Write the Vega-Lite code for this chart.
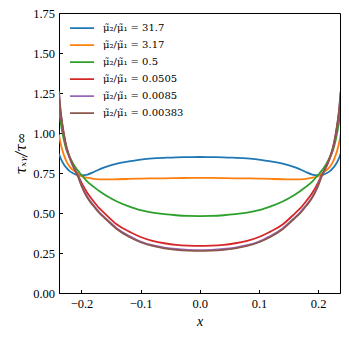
{
  "$schema": "https://vega.github.io/schema/vega-lite/v6.json",
  "width": 281,
  "height": 280,
  "autosize": {"type": "none"},
  "padding": {"left": 59, "top": 13, "right": 9, "bottom": 44},
  "background": "white",
  "config": {
    "font": "Liberation Serif",
    "view": {"stroke": "black", "strokeWidth": 1},
    "axis": {"grid": false, "domainColor": "black", "tickColor": "black", "labelColor": "black", "titleColor": "black", "labelFont": "Liberation Serif", "titleFont": "Liberation Serif", "labelFontSize": 12.5, "titleFontSize": 14, "titleFontWeight": "normal", "tickSize": -3.5, "labelPadding": 8}
  },
  "data": {"values": [
    {"x": -0.238, "a": 0.87, "b": 0.99, "c": 1.15, "d": 1.22, "e": 1.25, "f": 1.26},
    {"x": -0.235, "a": 0.84, "b": 0.93, "c": 1.06, "d": 1.11, "e": 1.125, "f": 1.13},
    {"x": -0.23, "a": 0.805, "b": 0.865, "c": 0.96, "d": 0.99, "e": 0.995, "f": 1.0},
    {"x": -0.225, "a": 0.78, "b": 0.82, "c": 0.89, "d": 0.9, "e": 0.905, "f": 0.91},
    {"x": -0.22, "a": 0.762, "b": 0.79, "c": 0.85, "d": 0.845, "e": 0.848, "f": 0.85},
    {"x": -0.215, "a": 0.75, "b": 0.77, "c": 0.815, "d": 0.8, "e": 0.8, "f": 0.8},
    {"x": -0.21, "a": 0.742, "b": 0.757, "c": 0.785, "d": 0.765, "e": 0.762, "f": 0.76},
    {"x": -0.205, "a": 0.737, "b": 0.745, "c": 0.76, "d": 0.73, "e": 0.724, "f": 0.72},
    {"x": -0.2, "a": 0.735, "b": 0.73, "c": 0.738, "d": 0.69, "e": 0.675, "f": 0.67},
    {"x": -0.19, "a": 0.74, "b": 0.72, "c": 0.696, "d": 0.625, "e": 0.6, "f": 0.595},
    {"x": -0.18, "a": 0.755, "b": 0.713, "c": 0.665, "d": 0.575, "e": 0.55, "f": 0.545},
    {"x": -0.17, "a": 0.772, "b": 0.71, "c": 0.637, "d": 0.53, "e": 0.506, "f": 0.5},
    {"x": -0.16, "a": 0.787, "b": 0.71, "c": 0.613, "d": 0.495, "e": 0.47, "f": 0.465},
    {"x": -0.14, "a": 0.809, "b": 0.711, "c": 0.572, "d": 0.428, "e": 0.404, "f": 0.398},
    {"x": -0.12, "a": 0.822, "b": 0.713, "c": 0.542, "d": 0.385, "e": 0.358, "f": 0.352},
    {"x": -0.1, "a": 0.833, "b": 0.715, "c": 0.518, "d": 0.35, "e": 0.322, "f": 0.317},
    {"x": -0.08, "a": 0.841, "b": 0.716, "c": 0.503, "d": 0.326, "e": 0.299, "f": 0.294},
    {"x": -0.06, "a": 0.845, "b": 0.717, "c": 0.493, "d": 0.311, "e": 0.284, "f": 0.279},
    {"x": -0.04, "a": 0.848, "b": 0.718, "c": 0.486, "d": 0.301, "e": 0.275, "f": 0.27},
    {"x": -0.02, "a": 0.849, "b": 0.719, "c": 0.482, "d": 0.296, "e": 0.27, "f": 0.265},
    {"x": 0, "a": 0.85, "b": 0.719, "c": 0.481, "d": 0.294, "e": 0.268, "f": 0.263},
    {"x": 0.02, "a": 0.849, "b": 0.719, "c": 0.482, "d": 0.296, "e": 0.27, "f": 0.265},
    {"x": 0.04, "a": 0.848, "b": 0.718, "c": 0.486, "d": 0.301, "e": 0.275, "f": 0.27},
    {"x": 0.06, "a": 0.845, "b": 0.717, "c": 0.493, "d": 0.311, "e": 0.284, "f": 0.279},
    {"x": 0.08, "a": 0.841, "b": 0.716, "c": 0.503, "d": 0.326, "e": 0.299, "f": 0.294},
    {"x": 0.1, "a": 0.833, "b": 0.715, "c": 0.518, "d": 0.35, "e": 0.322, "f": 0.317},
    {"x": 0.12, "a": 0.822, "b": 0.713, "c": 0.542, "d": 0.385, "e": 0.358, "f": 0.352},
    {"x": 0.14, "a": 0.809, "b": 0.711, "c": 0.572, "d": 0.428, "e": 0.404, "f": 0.398},
    {"x": 0.16, "a": 0.787, "b": 0.71, "c": 0.613, "d": 0.495, "e": 0.47, "f": 0.465},
    {"x": 0.17, "a": 0.772, "b": 0.71, "c": 0.637, "d": 0.53, "e": 0.506, "f": 0.5},
    {"x": 0.18, "a": 0.755, "b": 0.713, "c": 0.665, "d": 0.575, "e": 0.55, "f": 0.545},
    {"x": 0.19, "a": 0.74, "b": 0.72, "c": 0.696, "d": 0.625, "e": 0.6, "f": 0.595},
    {"x": 0.2, "a": 0.735, "b": 0.73, "c": 0.738, "d": 0.69, "e": 0.675, "f": 0.67},
    {"x": 0.205, "a": 0.737, "b": 0.745, "c": 0.76, "d": 0.73, "e": 0.724, "f": 0.72},
    {"x": 0.21, "a": 0.742, "b": 0.757, "c": 0.785, "d": 0.765, "e": 0.762, "f": 0.76},
    {"x": 0.215, "a": 0.75, "b": 0.77, "c": 0.815, "d": 0.8, "e": 0.8, "f": 0.8},
    {"x": 0.22, "a": 0.762, "b": 0.79, "c": 0.85, "d": 0.845, "e": 0.848, "f": 0.85},
    {"x": 0.225, "a": 0.78, "b": 0.82, "c": 0.89, "d": 0.9, "e": 0.905, "f": 0.91},
    {"x": 0.23, "a": 0.805, "b": 0.865, "c": 0.96, "d": 0.99, "e": 0.995, "f": 1.0},
    {"x": 0.235, "a": 0.84, "b": 0.93, "c": 1.06, "d": 1.11, "e": 1.125, "f": 1.13},
    {"x": 0.238, "a": 0.87, "b": 0.99, "c": 1.15, "d": 1.22, "e": 1.25, "f": 1.26}
  ]},
  "transform": [{"fold": ["a", "b", "c", "d", "e", "f"], "as": ["s", "y"]}],
  "mark": {"type": "line", "strokeWidth": 1.8, "clip": true, "interpolate": "natural"},
  "encoding": {
    "x": {"field": "x", "type": "quantitative",
      "scale": {"domain": [-0.238, 0.237], "nice": false, "zero": false},
      "axis": {"values": [-0.2, -0.1, 0, 0.1, 0.2], "format": ".1f", "title": "x", "titleFontStyle": "italic", "titlePadding": 4}},
    "y": {"field": "y", "type": "quantitative",
      "scale": {"domain": [0, 1.75], "nice": false},
      "axis": {"values": [0, 0.25, 0.5, 0.75, 1, 1.25, 1.5, 1.75], "format": ".2f", "title": "τₓᵧ/τ∞", "titleFont": "DejaVu Serif", "titleFontSize": 14, "titleFontStyle": "italic", "titlePadding": 4}},
    "color": {"field": "s", "type": "nominal",
      "scale": {"domain": ["a", "b", "c", "d", "e", "f"], "range": ["#1f77b4", "#ff7f0e", "#2ca02c", "#d62728", "#9467bd", "#8c564b"]},
      "legend": {"title": null, "orient": "none", "legendX": 10, "legendY": 7, "symbolType": "stroke", "symbolSize": 576, "symbolStrokeWidth": 1.8, "clipHeight": 16.3, "rowPadding": 0, "labelOffset": 8, "labelFontSize": 10, "labelFont": "DejaVu Serif", "labelColor": "black",
        "labelExpr": "datum.label == 'a' ? 'μ̃₂/μ̃₁ = 31.7' : datum.label == 'b' ? 'μ̃₂/μ̃₁ = 3.17' : datum.label == 'c' ? 'μ̃₂/μ̃₁ = 0.5' : datum.label == 'd' ? 'μ̃₂/μ̃₁ = 0.0505' : datum.label == 'e' ? 'μ̃₂/μ̃₁ = 0.0085' : 'μ̃₂/μ̃₁ = 0.00383'"}}
  }
}
